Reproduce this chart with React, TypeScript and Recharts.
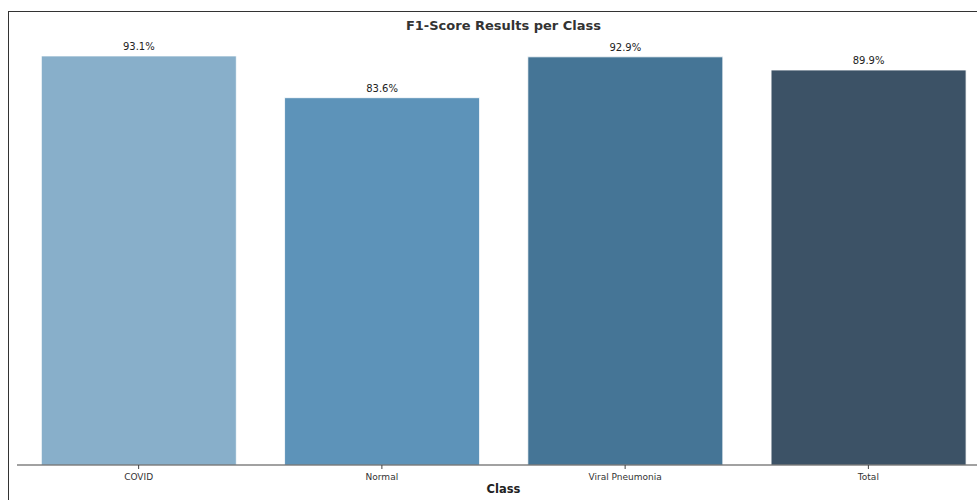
import React from 'react';
import { BarChart, Bar, XAxis, YAxis, Cell, LabelList } from 'recharts';

const classes = ['COVID', 'Normal', 'Viral Pneumonia', 'Total'];
const f1Scores = [93.1, 83.6, 92.9, 89.9];
const barColors = ['#88afca', '#5d93b9', '#457596', '#3c5266'];

const data = classes.map((name, i) => ({ name, score: f1Scores[i] }));

const FONT = '"DejaVu Sans", sans-serif';

export default function App() {
    return (
        <div style={{ position: 'fixed', left: 0, top: 0, width: 977, height: 500, overflow: 'hidden', background: '#fff' }}>
            {/* figure frame */}
            <div
                style={{
                    position: 'absolute',
                    left: 8,
                    top: 11,
                    width: 1100,
                    height: 700,
                    border: '1.5px solid #333',
                    boxSizing: 'border-box',
                }}
            />
            <div
                style={{
                    position: 'absolute',
                    left: 0,
                    top: 18,
                    width: 1007,
                    textAlign: 'center',
                    fontFamily: FONT,
                    fontWeight: 'bold',
                    fontSize: 13,
                    color: '#333',
                }}
            >
                F1-Score Results per Class
            </div>
            <div style={{ position: 'absolute', left: 0, top: 0 }}>
                <BarChart
                    width={1000}
                    height={520}
                    data={data}
                    margin={{ top: 35.5, right: 10, bottom: 25, left: 17 }}
                    barCategoryGap="10%"
                >
                    <XAxis
                        dataKey="name"
                        axisLine={{ stroke: '#444', strokeWidth: 1.2 }}
                        tickLine={{ stroke: '#444' }}
                        tickSize={4}
                        tick={{ fill: '#333', fontSize: 9, fontFamily: FONT, dy: 3 }}
                        interval={0}
                    />
                    <YAxis hide domain={[0, 97.755]} />
                    <Bar dataKey="score" isAnimationActive={false} stroke="#ffffff" strokeWidth={0.8}>
                        {data.map((d, i) => (
                            <Cell key={d.name} fill={barColors[i]} />
                        ))}
                        <LabelList
                            dataKey="score"
                            position="top"
                            offset={6}
                            formatter={(v: number) => `${v}%`}
                            style={{ fill: '#222', fontSize: 10, fontFamily: FONT }}
                        />
                    </Bar>
                </BarChart>
            </div>
            <div
                style={{
                    position: 'absolute',
                    left: 0,
                    top: 482,
                    width: 1007,
                    textAlign: 'center',
                    fontFamily: FONT,
                    fontWeight: 'bold',
                    fontSize: 11.5,
                    color: '#222',
                }}
            >
                Class
            </div>
        </div>
    );
}
